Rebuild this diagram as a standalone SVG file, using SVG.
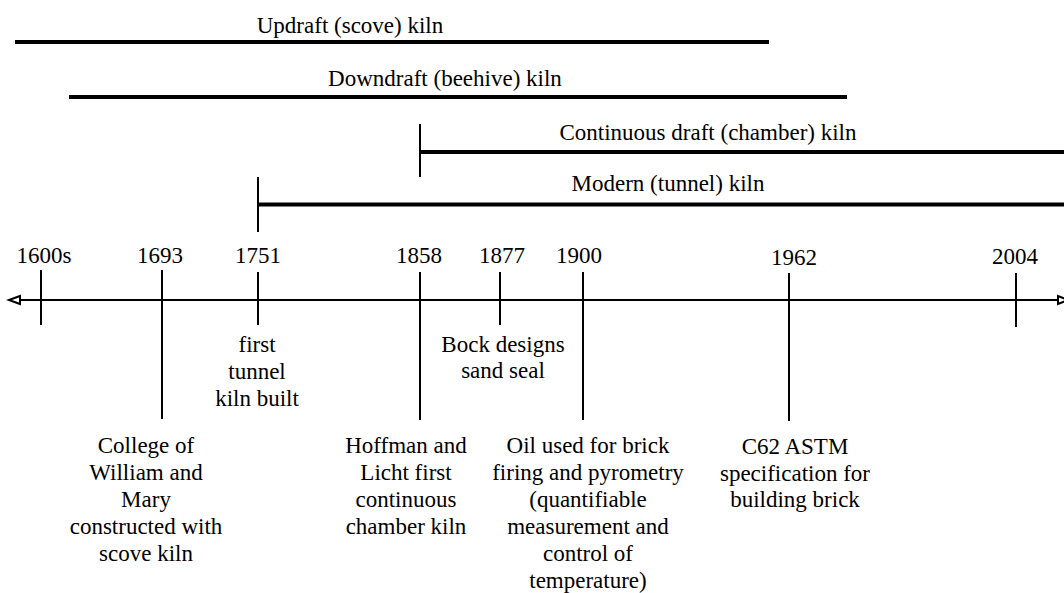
<svg xmlns="http://www.w3.org/2000/svg" width="1064" height="593" viewBox="0 0 1064 593">
<style>
text{font-family:"Liberation Serif","Times New Roman",serif;font-size:23px;fill:#000;text-anchor:middle}
.bar{stroke:#000;stroke-width:4;fill:none}
.tick{stroke:#000;stroke-width:2;fill:none}
.axis{stroke:#000;stroke-width:2;fill:none}
.head{fill:#fff;stroke:#000;stroke-width:2}
</style>
<rect width="1064" height="593" fill="#fff"/>
<g id="kiln-updraft">
<line class="bar" x1="15" y1="42" x2="769" y2="42"/>
<text x="350" y="33">Updraft (scove) kiln</text>
</g>
<g id="kiln-downdraft">
<line class="bar" x1="69" y1="97" x2="847" y2="97"/>
<text x="445" y="86">Downdraft (beehive) kiln</text>
</g>
<g id="kiln-continuous">
<line class="tick" x1="420" y1="124" x2="420" y2="177"/>
<line class="bar" x1="420" y1="152" x2="1064" y2="152"/>
<text x="708" y="140">Continuous draft (chamber) kiln</text>
</g>
<g id="kiln-modern">
<line class="tick" x1="258" y1="177" x2="258" y2="232"/>
<line class="bar" x1="258" y1="204.5" x2="1064" y2="204.5"/>
<text x="668" y="191">Modern (tunnel) kiln</text>
</g>
<g id="connectors">
<line class="axis" x1="14" y1="300" x2="1058" y2="300"/>
<polygon class="head" points="9,300 20,296 20,304"/>
<polygon class="head" points="1068,300 1058,296 1058,304"/>
</g>
<g id="y1600s">
<line class="tick" x1="41" y1="270" x2="41" y2="325"/>
<text x="44" y="263">1600s</text>
</g>
<g id="y1693">
<line class="tick" x1="162" y1="270" x2="162" y2="419"/>
<text x="160" y="263">1693</text>
<text x="146" y="453">College of</text>
<text x="146" y="480">William and</text>
<text x="146" y="507">Mary</text>
<text x="146" y="534">constructed with</text>
<text x="146" y="561">scove kiln</text>
</g>
<g id="y1751">
<line class="tick" x1="258" y1="272" x2="258" y2="325"/>
<text x="258" y="263">1751</text>
<text x="257" y="352">first</text>
<text x="257" y="379">tunnel</text>
<text x="257" y="406">kiln built</text>
</g>
<g id="y1858">
<line class="tick" x1="420" y1="272" x2="420" y2="420"/>
<text x="419" y="263">1858</text>
<text x="406" y="453">Hoffman and</text>
<text x="406" y="480">Licht first</text>
<text x="406" y="507">continuous</text>
<text x="406" y="534">chamber kiln</text>
</g>
<g id="y1877">
<line class="tick" x1="500" y1="272" x2="500" y2="325"/>
<text x="502" y="263">1877</text>
<text x="503" y="352">Bock designs</text>
<text x="503" y="378">sand seal</text>
</g>
<g id="y1900">
<line class="tick" x1="583" y1="272" x2="583" y2="420"/>
<text x="579" y="263">1900</text>
<text x="588" y="453">Oil used for brick</text>
<text x="588" y="480">firing and pyrometry</text>
<text x="588" y="507">(quantifiable</text>
<text x="588" y="534">measurement and</text>
<text x="588" y="561">control of</text>
<text x="588" y="588">temperature)</text>
</g>
<g id="y1962">
<line class="tick" x1="789" y1="273" x2="789" y2="421"/>
<text x="794" y="265">1962</text>
<text x="795" y="454">C62 ASTM</text>
<text x="795" y="481">specification for</text>
<text x="795" y="507">building brick</text>
</g>
<g id="y2004">
<line class="tick" x1="1016" y1="273" x2="1016" y2="327"/>
<text x="1015" y="264">2004</text>
</g>
</svg>
